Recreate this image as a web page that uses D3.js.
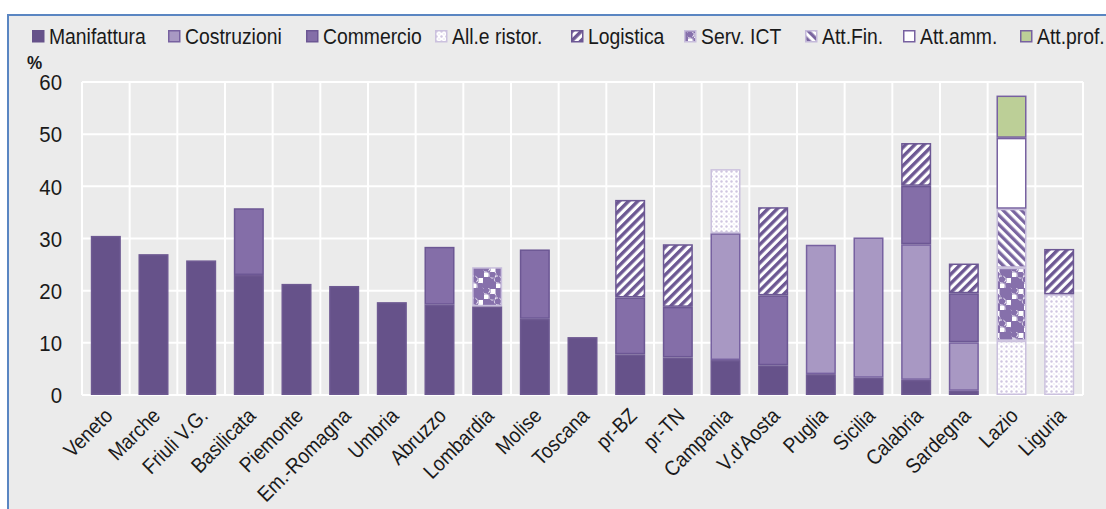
<!DOCTYPE html>
<html><head><meta charset="utf-8">
<script src="https://cdn.jsdelivr.net/npm/d3@7"></script>
<style>
html,body{margin:0;padding:0;background:#fff;}
svg{display:block;font-family:"Liberation Sans",Arial,sans-serif;}
</style></head>
<body>
<svg id="c" width="1106" height="509"></svg>
<script>
const regions = ["Veneto","Marche","Friuli V.G.","Basilicata","Piemonte","Em.-Romagna","Umbria","Abruzzo","Lombardia","Molise","Toscana","pr-BZ","pr-TN","Campania","V.d'Aosta","Puglia","Sicilia","Calabria","Sardegna","Lazio","Liguria"];
const sectors = ["Manifattura","Costruzioni","Commercio","All.e ristor.","Logistica","Serv. ICT","Att.Fin.","Att.amm.","Att.prof."];
const manifattura = [30.5,27.0,25.8,23.0,21.3,20.9,17.8,17.3,17.0,14.6,11.1,7.8,7.2,6.7,5.7,4.0,3.3,2.9,0.8,0,0];
const costruzioni = [0,0,0,0,0,0,0,0,0,0,0,0,0,24.3,0,24.8,26.9,26.0,9.3,0,0];
const commercio   = [0,0,0,12.8,0,0,0,11.1,0,13.3,0,10.9,9.7,0,13.4,0,0,11.2,9.4,0,0];
const alleRistor  = [0,0,0,0,0,0,0,0,0,0,0,0,0,12.3,0,0,0,0,0,10.4,19.3];
const logistica   = [0,0,0,0,0,0,0,0,0,0,0,18.7,12.0,0,16.9,0,0,8.2,5.7,0,8.7];
const servICT     = [0,0,0,0,0,0,0,0,7.5,0,0,0,0,0,0,0,0,0,0,14.0,0];
const attFin      = [0,0,0,0,0,0,0,0,0,0,0,0,0,0,0,0,0,0,0,11.3,0];
const attAmm      = [0,0,0,0,0,0,0,0,0,0,0,0,0,0,0,0,0,0,0,13.6,0];
const attProf     = [0,0,0,0,0,0,0,0,0,0,0,0,0,0,0,0,0,0,0,8.1,0];
const yTicks = [0,10,20,30,40,50,60];

const seriesValues = [manifattura,costruzioni,commercio,alleRistor,logistica,servICT,attFin,attAmm,attProf];
const rows = regions.map((r,i)=>{const o={region:r}; sectors.forEach((s,j)=>o[s]=seriesValues[j][i]); return o;});

const svg = d3.select("#c");
const defs = svg.append("defs");
const FS = 21.5, SX = 0.9;

// patterns
const pDots = defs.append("pattern").attr("id","p-dots").attr("patternUnits","userSpaceOnUse").attr("width",5).attr("height",5);
pDots.append("rect").attr("width",5).attr("height",5).attr("fill","#ffffff");
pDots.append("circle").attr("cx",1.5).attr("cy",1.5).attr("r",1.2).attr("fill","#d0c6e1");
pDots.append("circle").attr("cx",4).attr("cy",4).attr("r",0.8).attr("fill","#e4dfee");

const pLog = defs.append("pattern").attr("id","p-log").attr("patternUnits","userSpaceOnUse").attr("width",6.5).attr("height",6.5).attr("patternTransform","rotate(45)");
pLog.append("rect").attr("width",6.5).attr("height",6.5).attr("fill","#ffffff");
pLog.append("rect").attr("width",3.4).attr("height",6.5).attr("fill","#6d5893");

const pFin = defs.append("pattern").attr("id","p-fin").attr("patternUnits","userSpaceOnUse").attr("width",6.5).attr("height",6.5).attr("patternTransform","rotate(-45)");
pFin.append("rect").attr("width",6.5).attr("height",6.5).attr("fill","#ffffff");
pFin.append("rect").attr("width",3.3).attr("height",6.5).attr("fill","#7a66a0");

const pIct = defs.append("pattern").attr("id","p-ict").attr("patternUnits","userSpaceOnUse").attr("width",24).attr("height",22).attr("x",3).attr("y",2);
pIct.append("rect").attr("width",24).attr("height",22).attr("fill","#8670ab");
[[0,0],[12,11]].forEach(([ox,oy])=>{
  pIct.append("rect").attr("x",ox+7.5).attr("y",oy+1).attr("width",5).attr("height",5).attr("fill","#ffffff");
  pIct.append("rect").attr("x",ox+1).attr("y",oy+6.5).attr("width",4.5).attr("height",4.5).attr("fill","#ffffff");
  pIct.append("circle").attr("cx",ox+3).attr("cy",oy+2.5).attr("r",3.6).attr("fill","none").attr("stroke","#f2eef8").attr("stroke-width",1).attr("stroke-dasharray","3,1.5");
  pIct.append("circle").attr("cx",ox+9.5).attr("cy",oy+8.5).attr("r",3.6).attr("fill","none").attr("stroke","#f2eef8").attr("stroke-width",1).attr("stroke-dasharray","3,1.5");
});

const styles = {
  "Manifattura":   {fill:"#66528a", stroke:"#6e5a92"},
  "Costruzioni":   {fill:"#a898c3", stroke:"#7761a0"},
  "Commercio":     {fill:"#846ea8", stroke:"#6c5794"},
  "All.e ristor.": {fill:"url(#p-dots)", stroke:"#cbc1de"},
  "Logistica":     {fill:"url(#p-log)", stroke:"#6c5794"},
  "Serv. ICT":     {fill:"url(#p-ict)", stroke:"#c8bedc"},
  "Att.Fin.":      {fill:"url(#p-fin)", stroke:"#c4b9da"},
  "Att.amm.":      {fill:"#ffffff", stroke:"#7761a0"},
  "Att.prof.":     {fill:"#bccf97", stroke:"#7761a0"}
};

// frame
svg.append("rect").attr("x",8).attr("y",15).attr("width",1110).attr("height",510)
  .attr("fill","#ebebeb").attr("stroke","#5a86c2").attr("stroke-width",2);

const L=82, R=1083, T=82, B=395;
const x = d3.scaleBand().domain(regions).range([L,R]).paddingInner(0.37).paddingOuter(0.185);
const y = d3.scaleLinear().domain([0,60]).range([B,T]);

// gridlines
const g = svg.append("g");
g.selectAll("line.h").data(yTicks).join("line")
  .attr("x1",L).attr("x2",R).attr("y1",d=>y(d)).attr("y2",d=>y(d))
  .attr("stroke","#ffffff").attr("stroke-width",2);
const vEdges = regions.map(r=>x(r)-x.step()*x.paddingInner()/2);
vEdges.push(R);
g.selectAll("line.v").data(vEdges).join("line")
  .attr("x1",d=>d).attr("x2",d=>d).attr("y1",T).attr("y2",B)
  .attr("stroke","#ffffff").attr("stroke-width",2);

// stacked bars
const stack = d3.stack().keys(sectors)(rows);
const bars = svg.append("g");
stack.forEach(layer=>{
  const key = layer.key;
  bars.append("g").selectAll("rect").data(layer.filter(d=>d[1]-d[0]>0)).join("rect")
    .attr("x",d=>x(d.data.region)+0.75)
    .attr("width",x.bandwidth()-1.5)
    .attr("y",d=>y(d[1])+0.75)
    .attr("height",d=>Math.max(0,y(d[0])-y(d[1])-1.5))
    .attr("fill",styles[key].fill)
    .attr("stroke",styles[key].stroke)
    .attr("stroke-width",1.5);
});

// y axis labels
const yAxis = d3.axisLeft(y).tickValues(yTicks).tickSize(0).tickPadding(0);
const ya = svg.append("g").attr("transform",`translate(62,0)`).call(yAxis);
ya.select(".domain").remove();
ya.selectAll("text").attr("font-size",FS).attr("fill","#1a1a1a").attr("font-family","Liberation Sans, Arial, sans-serif")
  .attr("x",0).attr("dy","0.36em").attr("transform",`scale(0.95,1)`);

svg.append("text").attr("x",27).attr("y",69).attr("font-size",19).attr("font-weight","bold").attr("fill","#1a1a1a")
  .attr("transform","translate(27,0) scale(0.9,1) translate(-27,0)").text("%");

// x axis labels
const xAxis = d3.axisBottom(x).tickSize(0).tickPadding(0);
const xa = svg.append("g").attr("transform",`translate(0,${B})`).call(xAxis);
xa.select(".domain").remove();
xa.selectAll("text")
  .attr("font-size",21).attr("fill","#1a1a1a").attr("font-family","Liberation Sans, Arial, sans-serif")
  .attr("text-anchor","end").attr("dy",null).attr("y",0)
  .attr("transform",`translate(8,22) rotate(-45) scale(${SX},1)`);

// legend
const legendX = [32,168,306,435,571,684,805,903,1020];
const lg = svg.append("g");
sectors.forEach((s,i)=>{
  const it = lg.append("g").attr("transform",`translate(${legendX[i]},30)`);
  it.append("rect").attr("x",0.75).attr("y",0.75).attr("width",11).attr("height",11)
    .attr("fill",styles[s].fill).attr("stroke",styles[s].stroke==="#6e5a92"?"#66528a":styles[s].stroke).attr("stroke-width",1.5);
  it.append("text").attr("font-size",FS).attr("fill","#1a1a1a")
    .attr("transform",`translate(17,13.5) scale(${SX},1)`).text(s);
});
</script>
</body></html>
